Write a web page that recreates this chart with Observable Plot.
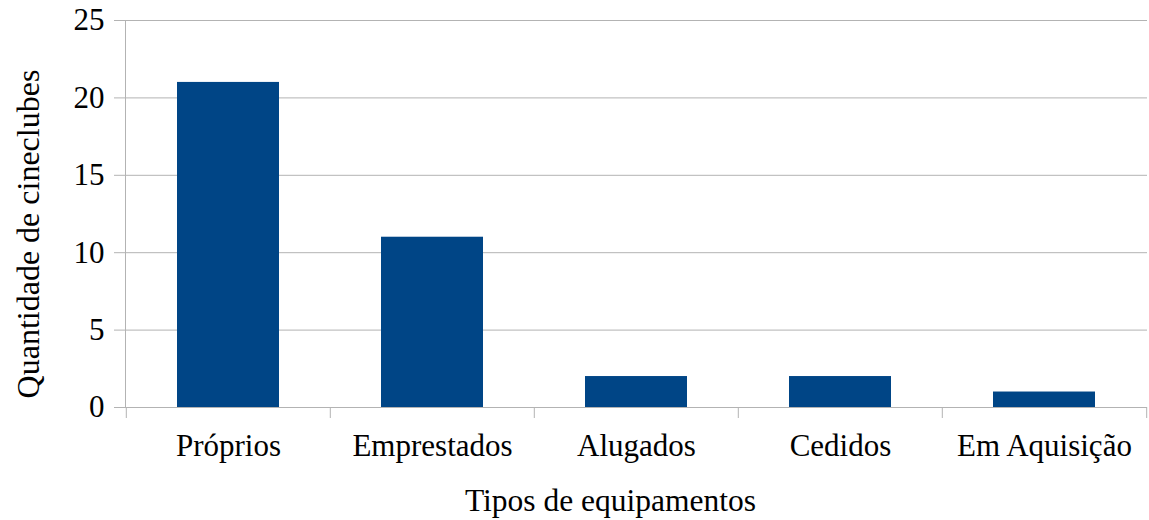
<!DOCTYPE html>
<html><head><meta charset="utf-8">
<script src="https://cdn.jsdelivr.net/npm/d3@7"></script>
<script src="https://cdn.jsdelivr.net/npm/@observablehq/plot@0.6"></script>
<style>
body{margin:0;background:#fff}
svg, svg text, svg g {font-family: "Liberation Serif", "Times New Roman", serif !important;}
</style>
</head><body><div id="chart"></div>
<script>
const categories = ["Próprios", "Emprestados", "Alugados", "Cedidos", "Em Aquisição"];
const values = [21, 11, 2, 2, 1];
const yTicks = [0, 5, 10, 15, 20, 25];
const xTitle = "Tipos de equipamentos";
const yTitle = "Quantidade de cineclubes";

const data = categories.map((c, i) => ({category: c, value: values[i]}));

const W = 1149, H = 520, mL = 125, mR = 2, mT = 20, mB = 113;
const step = (W - mL - mR) / categories.length;
const gridColor = "#b3b3b3";

const chart = Plot.plot({
  width: W,
  height: H,
  marginLeft: mL,
  marginRight: mR,
  marginTop: mT,
  marginBottom: mB,
  style: {fontFamily: "'Liberation Serif', 'Times New Roman', serif", fontSize: "31px", color: "#000", background: "#fff"},
  x: {domain: categories, paddingInner: 0.5, paddingOuter: 0.25},
  y: {domain: [0, 25]},
  marks: [
    Plot.gridY(yTicks, {stroke: gridColor, strokeOpacity: 1}),
    Plot.frame({anchor: "left", stroke: gridColor}),
    Plot.ruleX(categories, {x: d => d, dx: -step / 2, insetTop: H - mT - mB, insetBottom: -11, stroke: gridColor}),
    Plot.ruleX([categories[categories.length - 1]], {x: d => d, dx: step / 2, insetTop: H - mT - mB, insetBottom: -11, stroke: gridColor}),
    Plot.barY(data, {x: "category", y: "value", fill: "#004586"}),
    Plot.axisY({ticks: yTicks, tickSize: 11, tickPadding: 10, stroke: gridColor, fill: "#000", label: null, fontSize: 31}),
    Plot.axisX({tickSize: 0, tickPadding: 26, fill: "#000", label: null}),
    Plot.text([xTitle], {text: d => d, frameAnchor: "bottom", dx: -26, dy: 93, fontSize: 31.5, textAnchor: "middle", lineAnchor: "middle", fill: "#000"}),
    Plot.text([yTitle], {text: d => d, frameAnchor: "left", rotate: -90, dx: -97, dy: 20, fontSize: 32, textAnchor: "middle", lineAnchor: "middle", fill: "#000"})
  ]
});
document.getElementById("chart").append(chart);
</script>
</body></html>
